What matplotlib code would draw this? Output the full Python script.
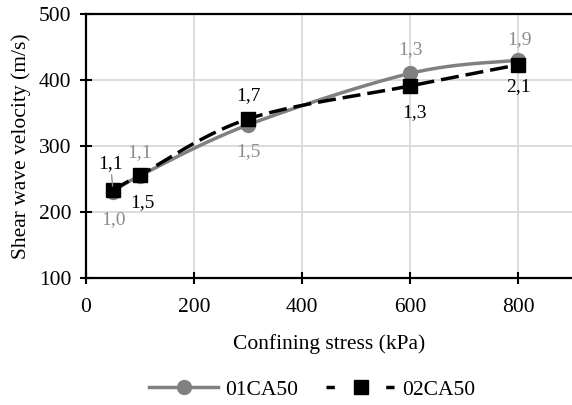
import numpy as np
import matplotlib
matplotlib.use("Agg")
import matplotlib.pyplot as plt
from matplotlib.lines import Line2D

# Confining stress (kPa) and shear wave velocity (m/s) for the two specimens
stress = [50, 100, 300, 600, 800]
vs_01 = [230, 255, 332, 410, 430]
vs_02 = [233, 256, 341, 391, 423]
labels_01 = ["1,0", "1,1", "1,5", "1,3", "1,9"]
labels_02 = ["1,1", "1,5", "1,7", "1,3", "2,1"]
x_ticks = [0, 200, 400, 600, 800]
y_ticks = [100, 200, 300, 400, 500]

plt.rcParams["font.family"] = ["Liberation Serif", "DejaVu Serif"]
plt.rcParams["lines.scale_dashes"] = False

GRAY = "#808080"
LABEL_GRAY = "#8c8c8c"
FS = 15.5
LW = 2.5


def smooth(xs, ys, n=40):
    """Bezier smoothed path through the points (Catmull-Rom control points)."""
    xs = np.asarray(xs, float)
    ys = np.asarray(ys, float)
    px = np.concatenate([[xs[0]], xs, [xs[-1]]])
    py = np.concatenate([[ys[0]], ys, [ys[-1]]])
    outx, outy = [], []
    for i in range(1, len(px) - 2):
        p0, p1, p2, p3 = (np.array([px[j], py[j]]) for j in (i - 1, i, i + 1, i + 2))
        c1 = p1 + (p2 - p0) / 6.0
        c2 = p2 - (p3 - p1) / 6.0
        t = np.linspace(0, 1, n)[:, None]
        b = ((1 - t) ** 3) * p1 + 3 * ((1 - t) ** 2) * t * c1 + 3 * (1 - t) * t ** 2 * c2 + t ** 3 * p2
        outx.extend(b[:, 0])
        outy.extend(b[:, 1])
    return np.array(outx), np.array(outy)


fig = plt.figure(figsize=(5.72, 4.05), dpi=100)
ax = fig.add_axes([86 / 572, 1 - 278 / 405, 1 - 86 / 572, (278 - 14) / 405])

ax.set_xlim(0, 900)
ax.set_ylim(100, 500)
ax.set_xticks(x_ticks)
ax.set_yticks(y_ticks)
ax.grid(True, color="#d9d9d9", linewidth=1.3)
ax.set_axisbelow(True)

for side in ("left", "bottom", "top"):
    ax.spines[side].set_color("black")
    ax.spines[side].set_linewidth(1.6)
ax.spines["right"].set_visible(False)
ax.tick_params(direction="inout", length=9, width=1.5, labelsize=FS, colors="black")
ax.tick_params(axis="x", pad=10)
ax.tick_params(axis="y", pad=6)

# Series 01CA50: grey smoothed line with circle markers
sx, sy = smooth(stress, vs_01)
ax.plot(sx, sy, color=GRAY, linewidth=LW, solid_capstyle="round", zorder=3)
ax.plot(stress, vs_01, linestyle="none", marker="o", markersize=10, color=GRAY, zorder=3)

# Series 02CA50: black dashed smoothed line with square markers
sx2, sy2 = smooth(stress, vs_02)
ax.plot(sx2, sy2, color="black", linewidth=LW, dashes=(13, 5), zorder=4)
ax.plot(stress, vs_02, linestyle="none", marker="s", markersize=10, color="black", zorder=4)

# Data labels (offsets in points from each marker)
off_01 = [(0, -20), (0, 16.5), (0, -19.5), (0, 17.5), (1, 15)]
off_02 = [(-2, 19.5), (2, -19.5), (0, 17), (3.5, -19), (0, -16)]
for x, y, t, o in zip(stress, vs_01, labels_01, off_01):
    ax.annotate(t, (x, y), xytext=o, textcoords="offset points", ha="center", va="center",
                fontsize=14, color=LABEL_GRAY, zorder=6)
for x, y, t, o in zip(stress, vs_02, labels_02, off_02):
    ax.annotate(t, (x, y), xytext=o, textcoords="offset points", ha="center", va="center",
                fontsize=14, color="black", zorder=6)
# leader line for the first black label
ax.annotate("", (stress[0], vs_02[0]), xytext=(-1, 11), textcoords="offset points",
            arrowprops=dict(arrowstyle="-", color=LABEL_GRAY, lw=1, shrinkA=0, shrinkB=3), zorder=5)

ax.set_xlabel("Confining stress (kPa)", fontsize=FS, labelpad=12)
ax.set_ylabel("Shear wave velocity (m/s)", fontsize=FS, labelpad=6)

handles = [
    Line2D([], [], color=GRAY, linewidth=LW, marker="o", markersize=10, label="01CA50"),
    Line2D([], [], color="black", linewidth=LW, dashes=(6, 37), marker="s", markersize=10, label="02CA50"),
]
fig.legend(handles=handles, loc="center", bbox_to_anchor=(312 / 572, 1 - 390 / 405), ncol=2, frameon=False,
           fontsize=FS, handlelength=3.25, columnspacing=1.3, handletextpad=0.3)

fig.savefig("out.png", dpi=100)
